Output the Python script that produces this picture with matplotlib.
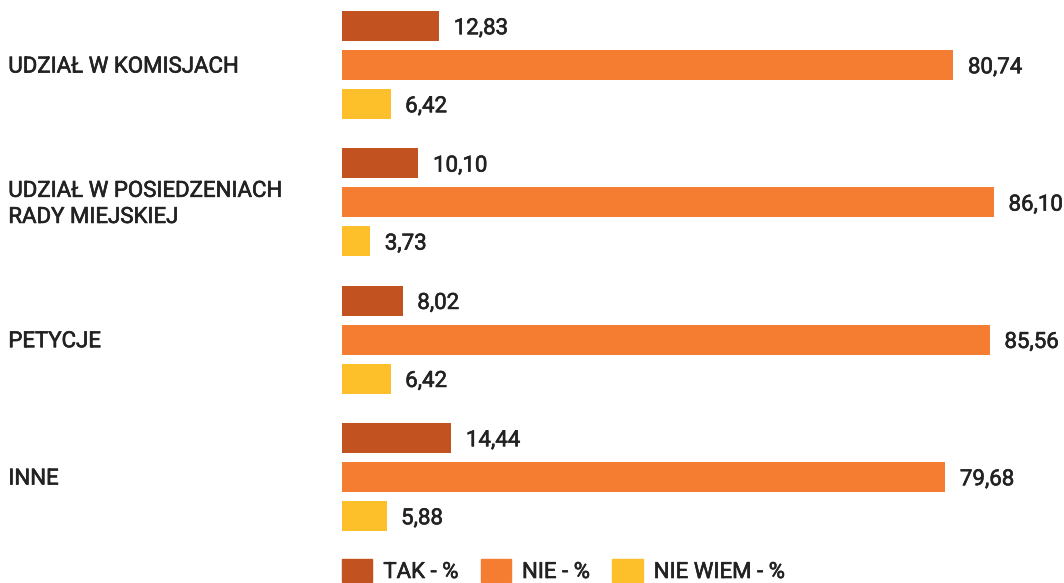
import matplotlib
matplotlib.use("Agg")
import matplotlib.pyplot as plt
from matplotlib.patches import Patch
import matplotlib.patheffects as pe
import numpy as np

categories = ["UDZIAŁ W KOMISJACH", "UDZIAŁ W POSIEDZENIACH\nRADY MIEJSKIEJ", "PETYCJE", "INNE"]
series_names = ["TAK - %", "NIE - %", "NIE WIEM - %"]
tak = [12.83, 10.10, 8.02, 14.44]
nie = [80.74, 86.10, 85.56, 79.68]
nie_wiem = [6.42, 3.73, 6.42, 5.88]
colors = ["#C25220", "#F47D31", "#FEC02A"]

plt.rcParams['font.family'] = ['Roboto', 'DejaVu Sans']
txt_color = "#222222"
fs = 16
fw = 'normal'
stroke = [pe.withStroke(linewidth=0.45, foreground=txt_color)]

fig = plt.figure(figsize=(10.64, 5.83), dpi=100)
ax = fig.add_axes([342/1064, 0, 722/1064, 1])
ax.set_xlim(0, 95.35)
ax.set_ylim(3.772, -0.473)
ax.axis('off')

y = np.arange(len(categories))
off = 0.284
h = 0.218
for vals, dy, c in zip([tak, nie, nie_wiem], [-off, 0, off], colors):
    bars = ax.barh(y + dy, vals, height=h, color=c)
    for b, v in zip(bars, vals):
        ax.annotate(f"{v:.2f}".replace(".", ","), (v, b.get_y() + b.get_height()/2),
                    xytext=(10.5, -2), textcoords='offset points', va='center', ha='left',
                    fontsize=fs, fontweight=fw, color=txt_color, path_effects=stroke)

for yi, cat in zip(y, categories):
    ax.annotate(cat, (0, yi), xycoords=('figure fraction', 'data'),
                xytext=(6, -1.5), textcoords='offset points',
                ha='left', va='center', fontsize=fs, fontweight=fw,
                color=txt_color, linespacing=1.32, path_effects=stroke)

handles = [Patch(color=c, label=n) for c, n in zip(colors, series_names)]
leg = fig.legend(handles=handles, loc='lower left', bbox_to_anchor=(342/1064, 0), ncol=3,
                 frameon=False, handlelength=1.36, handleheight=1.15,
                 handletextpad=0.5, columnspacing=1.0, borderpad=0, borderaxespad=0,
                 prop={'weight': fw, 'size': fs})
for t in leg.get_texts():
    t.set_color(txt_color)
    t.set_path_effects(stroke)

fig.savefig("out.png", dpi=100)
